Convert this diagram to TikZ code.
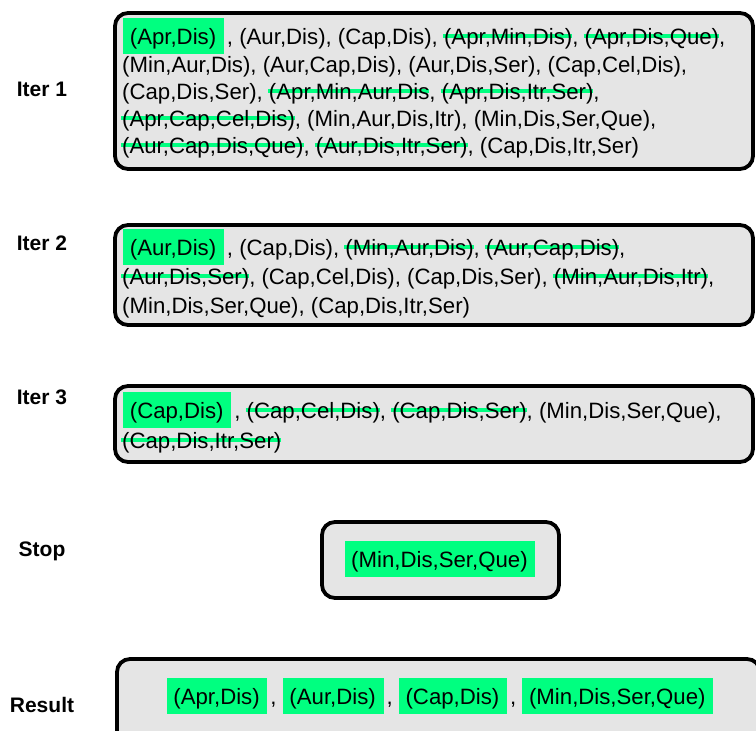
\documentclass[tikz,border=0pt]{standalone}
\usepackage{fontspec}
\setmainfont{Liberation Sans}
\definecolor{hl}{RGB}{0,255,128}
\definecolor{boxgray}{RGB}{229,229,229}
\newsavebox\strkbox
\newcommand\strk[1]{\sbox\strkbox{#1}\leavevmode\rlap{\hspace{-0.05em}\textcolor{hl}{\rule[0.27em]{\dimexpr\wd\strkbox+0.05em\relax}{0.18em}}}\usebox\strkbox}
\newcommand\hl[1]{{\setlength\fboxsep{0pt}\colorbox{hl}{\rule[-0.43em]{0pt}{1.58em}\hspace{0.3em}#1\hspace{0.35em}}}}
\begin{document}
\begin{tikzpicture}[x=1pt,y=-1pt,
  panel/.style={draw=black,line width=3.8pt,rounded corners=13pt,fill=boxgray},
  line/.style={anchor=base west,inner sep=0pt,font=\fontsize{22.2}{26}\selectfont},
  ctr/.style={anchor=base,inner sep=0pt,font=\fontsize{22.2}{26}\selectfont},
  lab/.style={anchor=base,inner sep=0pt,font=\fontsize{21}{24}\selectfont\bfseries}]
\useasboundingbox (0,0) rectangle (756,731);
% panels
\draw[panel] (115,13) rectangle (753,169);
\draw[panel] (115,225) rectangle (753,325);
\draw[panel] (115,386) rectangle (753,462);
\draw[panel] (322,522) rectangle (559,598);
\draw[panel] (117,659) rectangle (760,745);
% labels
\node[lab] (t1) at (42,96) {Iter 1};
\node[lab] (t2) at (42,250) {Iter 2};
\node[lab] (t3) at (42,404) {Iter 3};
\node[lab] (t4) at (42,556) {Stop};
\node[lab] (t5) at (42,712) {Result};
% Iter 1
\node[line] (a1) at (123,44) {\hl{(Apr,Dis)}\kern3pt, (Aur,Dis), (Cap,Dis), \strk{(Apr,Min,Dis)}, \strk{(Apr,Dis,Que)},};
\node[line] (a2) at (122,72) {(Min,Aur,Dis), (Aur,Cap,Dis), (Aur,Dis,Ser), (Cap,Cel,Dis),};
\node[line] (a3) at (122,99) {(Cap,Dis,Ser), \strk{(Apr,Min,Aur,Dis}, \strk{(Apr,Dis,Itr,Ser)},};
\node[line] (a4) at (122,126) {\strk{(Apr,Cap,Cel,Dis)}, (Min,Aur,Dis,Itr), (Min,Dis,Ser,Que),};
\node[line] (a5) at (122,153) {\strk{(Aur,Cap,Dis,Que)}, \strk{(Aur,Dis,Itr,Ser)}, (Cap,Dis,Itr,Ser)};
% Iter 2
\node[line] (b1) at (123,255) {\hl{(Aur,Dis)}\kern3pt, (Cap,Dis), \strk{(Min,Aur,Dis)}, \strk{(Aur,Cap,Dis)},};
\node[line] (b2) at (122,284) {\strk{(Aur,Dis,Ser)}, (Cap,Cel,Dis), (Cap,Dis,Ser), \strk{(Min,Aur,Dis,Itr)},};
\node[line] (b3) at (122,313) {(Min,Dis,Ser,Que), (Cap,Dis,Itr,Ser)};
% Iter 3
\node[line] (c1) at (123,418) {\hl{(Cap,Dis)}\kern3pt, \strk{(Cap,Cel,Dis)}, \strk{(Cap,Dis,Ser)}, (Min,Dis,Ser,Que),};
\node[line] (c2) at (122,448) {\strk{(Cap,Dis,Itr,Ser)}};
% Stop
\node[ctr] (s1) at (440,567) {\hl{(Min,Dis,Ser,Que)}};
% Result
\node[ctr] (r1) at (440,704) {\hl{(Apr,Dis)}\kern3pt, \hl{(Aur,Dis)}\kern3pt, \hl{(Cap,Dis)}\kern3pt, \hl{(Min,Dis,Ser,Que)}};
\end{tikzpicture}
\end{document}
